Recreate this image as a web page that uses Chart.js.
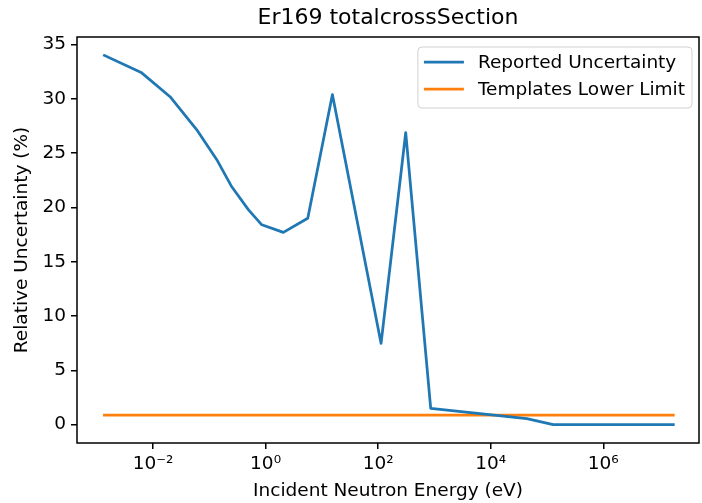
<!DOCTYPE html>
<html>
<head>
<meta charset="utf-8">
<script src="https://cdn.jsdelivr.net/npm/chart.js@4.4.1/dist/chart.umd.min.js"></script>
<style>
  html, body { margin: 0; padding: 0; background: #fff; }
  canvas { display: block; }
</style>
</head>
<body>
<canvas id="chart" width="702" height="503"></canvas>
<script>
// Данные
const energies = [1.37e-3, 6.3e-3, 0.0201, 0.060, 0.136, 0.251, 0.494, 0.857, 2.07, 5.62, 15.4, 112.7, 309, 859, 4.37e4, 1.29e5, 1.75e7];
const reportedUncertainty = [34.0, 32.4, 30.2, 27.15, 24.4, 21.9, 19.8, 18.4, 17.7, 19.0, 30.4, 7.47, 26.9, 1.48, 0.55, 0, 0];
const templateEnergies = [1.37e-3, 1.75e7];
const templateLimit = [0.86, 0.86];

const xTickValues = [1e-2, 1, 1e2, 1e4, 1e6];
const xTickLabels = ['10\u207B\u00B2', '10\u2070', '10\u00B2', '10\u2074', '10\u2076'];
const yTickValues = [0, 5, 10, 15, 20, 25, 30, 35];

const chartTitle = 'Er169 totalcrossSection';
const FONT = '"DejaVu Sans", sans-serif';
const LABEL_SIZE = 18.5;

// заголовок по центру области графика (как в matplotlib)
const axesTitle = {
  id: 'axesTitle',
  afterDraw(chart) {
    const { ctx, chartArea: a } = chart;
    ctx.save();
    ctx.font = '22px ' + FONT;
    ctx.fillStyle = '#000';
    ctx.textAlign = 'center';
    ctx.textBaseline = 'middle';
    ctx.fillText(chartTitle, (a.left + a.right) / 2, 18);
    ctx.restore();
  }
};

// рамка вокруг области графика
const spines = {
  id: 'spines',
  afterDatasetsDraw(chart) {
    const { ctx, chartArea: a } = chart;
    ctx.save();
    ctx.strokeStyle = '#000';
    ctx.lineWidth = 1.5;
    ctx.strokeRect(a.left, a.top, a.right - a.left, a.bottom - a.top);
    ctx.restore();
  }
};

// легенда в правом верхнем углу
const legendBox = {
  id: 'legendBox',
  afterDraw(chart) {
    const { ctx, chartArea: a } = chart;
    const items = chart.data.datasets;
    ctx.save();
    ctx.font = LABEL_SIZE + 'px ' + FONT;
    const textW = Math.max(...items.map(d => ctx.measureText(d.label).width));
    const w = textW + 67;
    const h = 61;
    const x = a.right - 7 - w;
    const y = a.top + 10;
    ctx.beginPath();
    ctx.roundRect(x, y, w, h, 4);
    ctx.fillStyle = 'rgba(255,255,255,0.8)';
    ctx.fill();
    ctx.strokeStyle = 'rgba(204,204,204,0.9)';
    ctx.lineWidth = 1;
    ctx.stroke();
    items.forEach((d, i) => {
      const ly = y + 15 + i * 27;
      ctx.beginPath();
      ctx.moveTo(x + 6, ly);
      ctx.lineTo(x + 46, ly);
      ctx.strokeStyle = d.borderColor;
      ctx.lineWidth = d.borderWidth;
      ctx.stroke();
      ctx.fillStyle = '#000';
      ctx.textBaseline = 'middle';
      ctx.textAlign = 'left';
      ctx.fillText(d.label, x + 60, ly + 1);
    });
    ctx.restore();
  }
};

const lineStyle = {
  borderWidth: 2.75,
  pointRadius: 0,
  tension: 0,
  fill: false,
  borderJoinStyle: 'round',
  borderCapStyle: 'square'
};

new Chart(document.getElementById('chart').getContext('2d'), {
  type: 'line',
  data: {
    datasets: [
      Object.assign({
        label: 'Reported Uncertainty',
        data: energies.map((e, i) => ({ x: e, y: reportedUncertainty[i] })),
        borderColor: '#1f77b4'
      }, lineStyle),
      Object.assign({
        label: 'Templates Lower Limit',
        data: templateEnergies.map((e, i) => ({ x: e, y: templateLimit[i] })),
        borderColor: '#ff7f0e'
      }, lineStyle)
    ]
  },
  options: {
    responsive: false,
    animation: false,
    layout: { padding: { top: 37, right: 3, bottom: 0, left: 0 } },
    plugins: {
      legend: { display: false },
      tooltip: { enabled: false },
      title: { display: false }
    },
    scales: {
      x: {
        type: 'logarithmic',
        min: Math.pow(10, -3.35),
        max: Math.pow(10, 7.70),
        border: { display: false },
        grid: { drawOnChartArea: false, drawTicks: true, tickLength: 6, color: '#000', lineWidth: 1.5 },
        afterBuildTicks: s => { s.ticks = xTickValues.map(v => ({ value: v })); },
        afterFit: s => { s.height = 60; },
        ticks: {
          autoSkip: false,
          maxRotation: 0,
          padding: 4,
          color: '#000',
          font: { family: FONT, size: LABEL_SIZE },
          callback: (v, i) => xTickLabels[i]
        },
        title: {
          display: true,
          text: 'Incident Neutron Energy (eV)',
          color: '#000',
          font: { family: FONT, size: LABEL_SIZE },
          padding: { top: 0, bottom: 1 }
        }
      },
      y: {
        type: 'linear',
        min: -1.7,
        max: 35.7,
        border: { display: false },
        grid: { drawOnChartArea: false, drawTicks: true, tickLength: 6, color: '#000', lineWidth: 1.5 },
        afterBuildTicks: s => { s.ticks = yTickValues.map(v => ({ value: v })); },
        afterFit: s => { s.width = 77; },
        ticks: {
          padding: 5,
          color: '#000',
          font: { family: FONT, size: LABEL_SIZE },
          callback: v => String(v)
        },
        title: {
          display: true,
          text: 'Relative Uncertainty (%)',
          color: '#000',
          font: { family: FONT, size: LABEL_SIZE },
          padding: { top: 11, bottom: 0 }
        }
      }
    }
  },
  plugins: [spines, legendBox, axesTitle]
});
</script>
</body>
</html>
